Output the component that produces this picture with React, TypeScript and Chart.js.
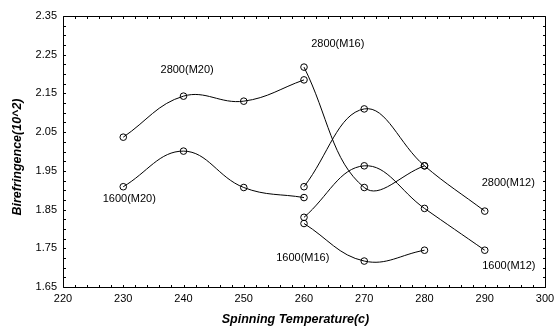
import React, { useEffect, useRef } from "react";
import { Chart, registerables } from "chart.js";

Chart.register(...registerables);

// Spinning temperatures
const m20Temps = [230, 240, 250, 260];
const m16Temps = [260, 270, 280];
const m12Temps = [260, 270, 280, 290];

// Birefringence (10^2)
const s2800M20 = [2.037, 2.143, 2.13, 2.185];
const s1600M20 = [1.909, 2.001, 1.907, 1.881];
const s2800M16 = [2.218, 1.907, 1.963];
const s1600M16 = [1.814, 1.717, 1.745];
const s2800M12 = [1.909, 2.11, 1.963, 1.846];
const s1600M12 = [1.83, 1.963, 1.853, 1.745];

// Series labels placed in data coordinates
const labelTexts = ["2800(M20)", "2800(M16)", "1600(M20)", "1600(M16)", "2800(M12)", "1600(M12)"];
const labelX = [240.6, 265.6, 231, 259.8, 293.9, 294];
const labelY = [2.21, 2.278, 1.877, 1.725, 1.918, 1.704];

const xTitle = "Spinning Temperature(c)";
const yTitle = "Birefringence(10^2)";

const FONT = "'Liberation Sans', Arial, sans-serif";

function pts(xs: number[], ys: number[]) {
  return xs.map((x, i) => ({ x, y: ys[i] }));
}

const decorPlugin = {
  id: "decor",
  afterDatasetsDraw(chart: any) {
    const { ctx, chartArea } = chart;
    const xs = chart.scales.x;
    const ys = chart.scales.y;
    const L = Math.round(chartArea.left) + 0.5;
    const R = Math.round(chartArea.right) + 0.5;
    const T = Math.round(chartArea.top) + 0.5;
    const B = Math.round(chartArea.bottom) + 0.5;
    ctx.save();
    ctx.strokeStyle = "#000";
    ctx.lineWidth = 1;
    ctx.beginPath();
    ctx.rect(L, T, R - L, B - T);
    ctx.stroke();
    // minor ticks
    ctx.beginPath();
    const tl = 2.5;
    for (let v = 220; v <= 300.001; v += 2) {
      const px = Math.round(xs.getPixelForValue(v)) + 0.5;
      ctx.moveTo(px, B);
      ctx.lineTo(px, B - tl);
      ctx.moveTo(px, T);
      ctx.lineTo(px, T + tl);
    }
    for (let i = 0; i <= 28; i++) {
      const v = 1.65 + i * 0.025;
      const py = Math.round(ys.getPixelForValue(v)) + 0.5;
      ctx.moveTo(L, py);
      ctx.lineTo(L + tl, py);
      ctx.moveTo(R, py);
      ctx.lineTo(R - tl, py);
    }
    ctx.stroke();

    // series labels
    ctx.fillStyle = "#000";
    ctx.font = `11px ${FONT}`;
    ctx.textAlign = "center";
    ctx.textBaseline = "middle";
    labelTexts.forEach((t, i) => {
      ctx.fillText(t, xs.getPixelForValue(labelX[i]), ys.getPixelForValue(labelY[i]));
    });

    // axis titles
    ctx.font = `bold italic 12.5px ${FONT}`;
    ctx.fillText(xTitle, 295.5, 320);
    ctx.save();
    ctx.translate(18, 157);
    ctx.rotate(-Math.PI / 2);
    ctx.fillText(yTitle, 0, 0);
    ctx.restore();
    ctx.restore();
  },
};

export default function App() {
  const ref = useRef<HTMLCanvasElement>(null);
  useEffect(() => {
    document.body.style.margin = "0";
    const ds = (data: { x: number; y: number }[]) => ({
      data,
      borderColor: "#000",
      borderWidth: 1,
      backgroundColor: "#fff",
      pointRadius: 3.3,
      pointBorderWidth: 1,
      pointBorderColor: "#000",
      pointBackgroundColor: "rgba(255,255,255,0)",
      tension: 0.4,
      fill: false,
    });
    const chart = new Chart(ref.current as HTMLCanvasElement, {
      type: "line",
      data: {
        datasets: [
          ds(pts(m20Temps, s2800M20)),
          ds(pts(m20Temps, s1600M20)),
          ds(pts(m16Temps, s2800M16)),
          ds(pts(m16Temps, s1600M16)),
          ds(pts(m12Temps, s2800M12)),
          ds(pts(m12Temps, s1600M12)),
        ],
      },
      options: {
        responsive: false,
        animation: false,
        events: [],
        layout: { padding: { top: 16, right: 10, left: 0, bottom: 0 } },
        plugins: { legend: { display: false }, tooltip: { enabled: false } },
        scales: {
          x: {
            type: "linear",
            min: 220,
            max: 300,
            afterFit: (s: any) => {
              s.height = 42;
              s.paddingRight = 0;
              s.paddingLeft = 0;
            },
            grid: { display: false, drawTicks: false },
            border: { display: false },
            ticks: {
              stepSize: 10,
              padding: 5,
              color: "#000",
              font: { family: FONT, size: 11 },
              maxRotation: 0,
            },
          },
          y: {
            type: "linear",
            min: 1.65,
            max: 2.35,
            afterFit: (s: any) => {
              s.width = 63;
              s.paddingTop = 0;
              s.paddingBottom = 0;
            },
            grid: { display: false, drawTicks: false },
            border: { display: false },
            ticks: {
              stepSize: 0.1,
              padding: 6,
              color: "#000",
              font: { family: FONT, size: 11 },
              callback: (v: any) => Number(v).toFixed(2),
            },
          },
        },
      },
      plugins: [decorPlugin],
    });
    return () => chart.destroy();
  }, []);
  return (
    <div style={{ width: 555, height: 329, background: "#fff" }}>
      <canvas ref={ref} width={555} height={329} style={{ display: "block" }} />
    </div>
  );
}
